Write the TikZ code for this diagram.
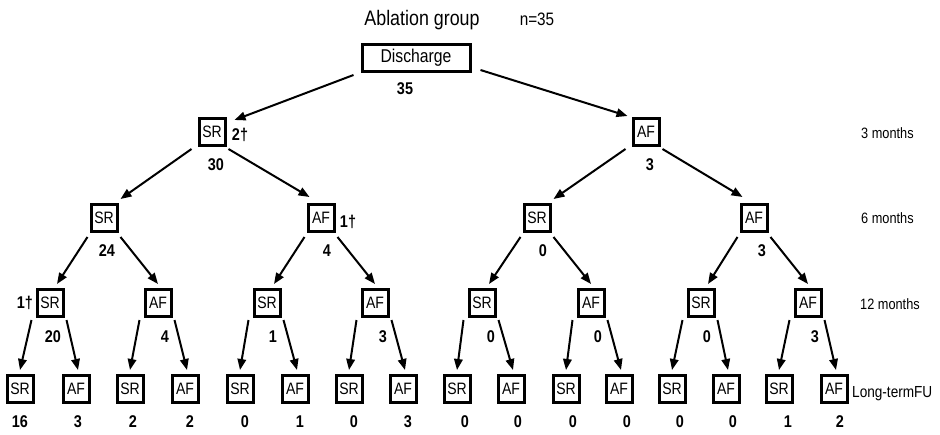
\documentclass[tikz,border=0pt]{standalone}
\usepackage{fontspec}
\setmainfont{Liberation Sans}[FakeStretch=0.85]
\usetikzlibrary{arrows.meta,calc}
\begin{document}
\begin{tikzpicture}[x=1pt,y=-1pt,
  box/.style={draw,line width=3pt,minimum width=26pt,minimum height=27pt,inner sep=0pt,font=\fontsize{16.5}{18}\selectfont},
  num/.style={font=\bfseries\fontsize{17}{19}\selectfont,inner sep=0pt},
  lvl/.style={anchor=base west,inner sep=0pt,font=\fontsize{15}{18}\selectfont},
  arr/.style={line width=2pt,-{Triangle[length=11pt,width=8.5pt]}}]
\useasboundingbox (0,0) rectangle (940,434);
% title
\node[anchor=base,inner sep=0pt,font=\fontsize{21}{24}\selectfont] (title) at (422,25) {Ablation group};
\node[anchor=base,inner sep=0pt,font=\fontsize{18}{22}\selectfont] (n) at (537,25) {n=35};
% root
\node[box,minimum width=108pt,font=\fontsize{18.5}{22}\selectfont] (r) at (416,58) {Discharge};
\node[num] (r35) at (405,89) {35};
% level 1
\node[box] (a1) at (212,132) {SR};
\node[box] (a2) at (646,132) {AF};
\node[num] (na1) at (216,165) {30};
\node[num] (na2) at (650,165) {3};
\node[num] (da1) at (240,135) {2†};
% level 2
\node[box] (b1) at (104,218) {SR};
\node[box] (b2) at (321,218) {AF};
\node[box] (b3) at (537,218) {SR};
\node[box] (b4) at (754,218) {AF};
\node[num] (nb1) at (107,251) {24};
\node[num] (nb2) at (327,251) {4};
\node[num] (nb3) at (543,251) {0};
\node[num] (nb4) at (762,251) {3};
\node[num] (db2) at (348,222) {1†};
% level 3
\foreach \x [count=\i] in {50,158,267,375,482,591,701,808}
  \node[box] (c\i) at (\x,303) {\ifodd\i\relax SR\else AF\fi};
\foreach \x/\v [count=\i] in {53/20,165/4,273/1,383/3,491/0,598/0,707/0,815/3}
  \node[num] (nc\i) at (\x,337) {\v};
\node[num] (dc1) at (25,303) {1†};
% level 4
\foreach \x [count=\i] in {20,76,130,185,240,295,349,403,457,511,566,619,672,726,779,834}
  \node[box] (d\i) at (\x,389) {\ifodd\i\relax SR\else AF\fi};
\foreach \x/\v [count=\i] in {20/16,78/3,133/2,190/2,245/0,300/1,354/0,408/3,465/0,518/0,573/0,627/0,680/0,733/0,788/1,840/2}
  \node[num] (nd\i) at (\x,422) {\v};
% row labels
\node[lvl] (m3) at (861,138) {3 months};
\node[lvl] (m6) at (861,223) {6 months};
\node[lvl] (m12) at (860,309) {12 months};
\node[lvl,font=\fontsize{16}{18}\selectfont] (mlt) at (852,397) {Long-termFU};
% arrows root -> level 1
\draw[arr] ($(r.south west)+(-7,2)$) -- ($(a1.north east)+(8,3)$);
\draw[arr] ($(r.south east)+(9,-3)$) -- ($(a2.north west)+(-4,-1)$);
% level 1 -> level 2
\foreach \i in {1,2}{
  \pgfmathtruncatemacro\l{2*\i-1}
  \pgfmathtruncatemacro\rr{2*\i}
  \draw[arr] ($(a\i.south west)+(-6,2)$) -- ($(b\l.north east)+(2,-4)$);
  \draw[arr] ($(a\i.south east)+(2,2)$) -- ($(b\rr.north west)+(3,-6)$);
}
% level 2 -> level 3
\foreach \i in {1,...,4}{
  \pgfmathtruncatemacro\l{2*\i-1}
  \pgfmathtruncatemacro\rr{2*\i}
  \draw[arr] ($(b\i.south west)+(-2,4)$) -- ($(c\l.north)+(7,-4)$);
  \draw[arr] ($(b\i.south east)+(2,4)$) -- ($(c\rr.north)+(0,-4)$);
}
% level 3 -> level 4
\foreach \i in {1,...,8}{
  \pgfmathtruncatemacro\l{2*\i-1}
  \pgfmathtruncatemacro\rr{2*\i}
  \draw[arr] ($(c\i.south west)+(-4,2)$) -- ($(d\l.north)+(0,-4)$);
  \draw[arr] ($(c\i.south east)+(2,2)$) -- ($(d\rr.north)+(2,-4)$);
}
\end{tikzpicture}
\end{document}
